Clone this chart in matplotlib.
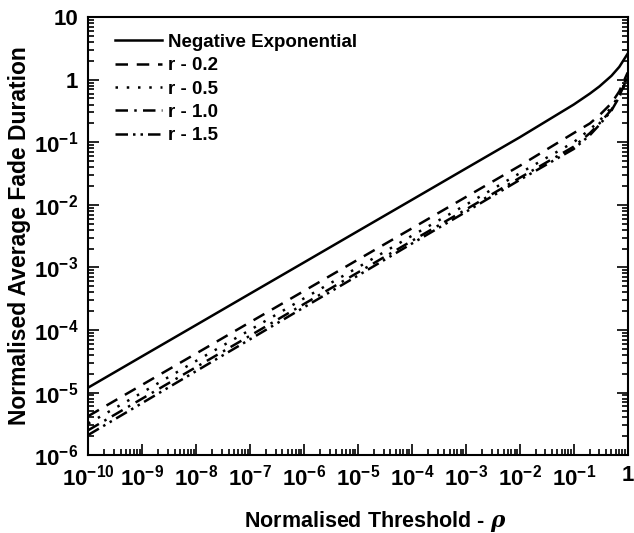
import matplotlib
matplotlib.use("Agg")
import matplotlib.pyplot as plt
from matplotlib.ticker import FixedLocator, FixedFormatter, LogLocator, NullFormatter

plt.rcParams['font.family'] = ['Liberation Sans', 'DejaVu Sans']
plt.rcParams['font.weight'] = 'bold'
plt.rcParams['mathtext.fontset'] = 'custom'
plt.rcParams['mathtext.bf'] = 'Liberation Sans:bold'
plt.rcParams['mathtext.rm'] = 'Liberation Sans:bold'
plt.rcParams['mathtext.it'] = 'DejaVu Serif:italic'

# normalised threshold rho
rho = [1e-10, 1e-9, 1e-8, 1e-7, 1e-6, 1e-5, 1e-4, 1e-3, 1e-2, 1e-1,
       0.2, 0.3, 0.5, 0.7, 1.0]

# normalised average fade duration
neg_exp = [1.2e-5, 3.8e-5, 1.2e-4, 3.8e-4, 1.2e-3, 3.8e-3, 1.2e-2, 3.8e-2, 0.12, 0.40,
           0.60, 0.78, 1.15, 1.6, 2.6]
r02 = [4.2e-6, 1.33e-5, 4.2e-5, 1.33e-4, 4.2e-4, 1.33e-3, 4.2e-3, 1.33e-2, 0.042, 0.14,
       0.2, 0.27, 0.42, 0.65, 1.3]
r05 = [3.2e-6, 1.0e-5, 3.2e-5, 1.0e-4, 3.2e-4, 1.0e-3, 3.2e-3, 1.0e-2, 0.032, 0.10,
       0.16, 0.22, 0.36, 0.58, 1.2]
r10 = [2.5e-6, 8.0e-6, 2.55e-5, 8.1e-5, 2.6e-4, 8.3e-4, 2.65e-3, 8.4e-3, 0.027, 0.085,
       0.14, 0.2, 0.33, 0.55, 1.1]
r15 = [2.1e-6, 6.8e-6, 2.2e-5, 7.1e-5, 2.3e-4, 7.4e-4, 2.4e-3, 7.7e-3, 0.025, 0.078,
       0.13, 0.19, 0.32, 0.53, 1.05]

xticks = [1e-10, 1e-9, 1e-8, 1e-7, 1e-6, 1e-5, 1e-4, 1e-3, 1e-2, 1e-1, 1]
xticklabels = [r'$\mathbf{10^{-10}}$', r'$\mathbf{10^{-9}}$', r'$\mathbf{10^{-8}}$',
               r'$\mathbf{10^{-7}}$', r'$\mathbf{10^{-6}}$', r'$\mathbf{10^{-5}}$',
               r'$\mathbf{10^{-4}}$', r'$\mathbf{10^{-3}}$', r'$\mathbf{10^{-2}}$',
               r'$\mathbf{10^{-1}}$', '1']
yticks = [1e-6, 1e-5, 1e-4, 1e-3, 1e-2, 1e-1, 1, 10]
yticklabels = [r'$\mathbf{10^{-6}}$', r'$\mathbf{10^{-5}}$', r'$\mathbf{10^{-4}}$',
               r'$\mathbf{10^{-3}}$', r'$\mathbf{10^{-2}}$', r'$\mathbf{10^{-1}}$',
               '1', '10']

fig = plt.figure(figsize=(6.34, 5.33), dpi=100)
ax = fig.add_axes([0.139, 0.146, 0.851, 0.822])

ax.plot(rho, neg_exp, '-', color='black', lw=1.8, label='Negative Exponential')
ax.plot(rho, r02, color='black', lw=1.8, dashes=(5, 3.5), label='r - 0.2')
ax.plot(rho, r05, color='black', lw=1.8, dashes=(1, 3.5), label='r - 0.5')
ax.plot(rho, r10, color='black', lw=1.8, dashes=(5, 2.5, 1, 2.5), label='r - 1.0')
ax.plot(rho, r15, color='black', lw=1.8, dashes=(5, 2, 1, 2, 1, 2), label='r - 1.5')

ax.set_xscale('log')
ax.set_yscale('log')
ax.set_xlim(1e-10, 1)
ax.set_ylim(1e-6, 10)

ax.xaxis.set_major_locator(FixedLocator(xticks))
ax.xaxis.set_major_formatter(FixedFormatter(xticklabels))
ax.yaxis.set_major_locator(FixedLocator(yticks))
ax.yaxis.set_major_formatter(FixedFormatter(yticklabels))
ax.xaxis.set_minor_locator(LogLocator(base=10, subs=range(2, 10), numticks=20))
ax.yaxis.set_minor_locator(LogLocator(base=10, subs=range(2, 10), numticks=20))
ax.xaxis.set_minor_formatter(NullFormatter())
ax.yaxis.set_minor_formatter(NullFormatter())

ax.tick_params(which='both', direction='in', top=False, right=True, width=1.2)
ax.tick_params(which='major', length=8, labelsize=16, pad=7)
ax.tick_params(which='minor', length=4)
for s in ax.spines.values():
    s.set_linewidth(1.5)

ax.set_xlabel(r'Normalised Threshold - $\it{\rho}$', fontsize=15.5, fontweight='bold')
ax.xaxis.set_label_coords(0.533, -0.122)
ax.set_ylabel('Normalised Average Fade Duration', fontsize=16.5, fontweight='bold', labelpad=2)

ax.legend(loc='upper left', bbox_to_anchor=(0.036, 0.979), borderaxespad=0,
          frameon=False, fontsize=13.5, handlelength=2.5,
          handletextpad=0.32, labelspacing=0.33)

fig.savefig('out.png', dpi=100)
